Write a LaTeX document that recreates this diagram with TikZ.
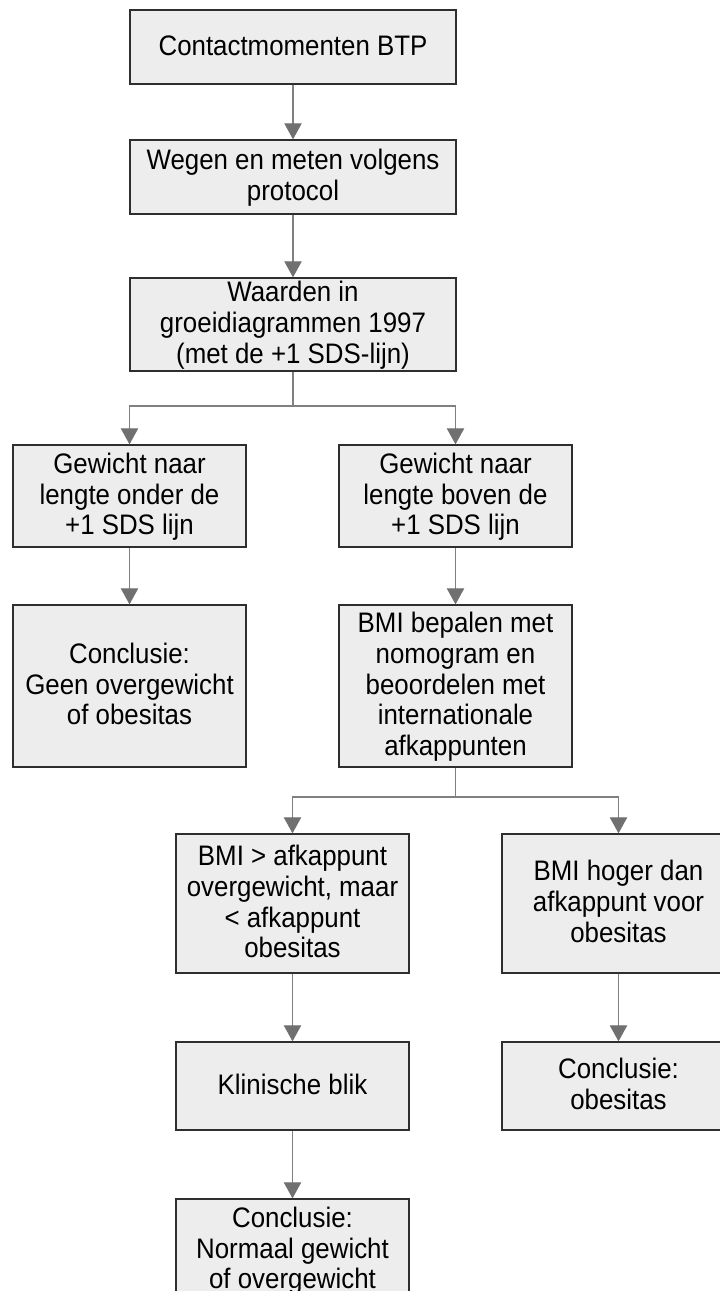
\documentclass[tikz,border=0pt]{standalone}
\usepackage{fontspec}
\usepackage{graphicx}
\setmainfont{Liberation Sans}
\usetikzlibrary{arrows.meta}
\definecolor{boxfill}{HTML}{EDEDED}
\definecolor{boxline}{HTML}{2E2E2E}
\definecolor{conncol}{HTML}{808080}
\definecolor{tipcol}{HTML}{707070}
\newcommand{\boxtext}[1]{\raisebox{-1.5pt}[\height][\depth]{\scalebox{1}[1.09]{\fontsize{19.4}{21.2}\selectfont\begin{tabular}{@{}c@{}}#1\end{tabular}}}}
\tikzset{
  flowbox/.style={draw=boxline, line width=1pt, fill=boxfill, rectangle,
    align=center, inner sep=0pt},
  connline/.style={draw=conncol, line width=0.8pt},
  connarrow/.style={connline, -{Triangle[width=13pt,length=12pt,fill=tipcol,color=tipcol]}}
}
\begin{document}
\begin{tikzpicture}[x=0.75pt,y=-0.75pt]
\useasboundingbox (0,0) rectangle (720,1291);
\clip (0,0) rectangle (720,1291);
\fill[white] (0,0) rectangle (720,1291);
\node[flowbox, minimum width=326*0.75pt, minimum height=74*0.75pt] (b1) at (293,47) {\boxtext{Contactmomenten BTP}};
\node[flowbox, minimum width=326*0.75pt, minimum height=74*0.75pt] (b2) at (293,177) {\boxtext{Wegen en meten volgens\\protocol}};
\node[flowbox, minimum width=326*0.75pt, minimum height=93*0.75pt] (b3) at (293,324.5) {\boxtext{Waarden in\\groeidiagrammen 1997\\(met de +1 SDS-lijn)}};
\node[flowbox, minimum width=233*0.75pt, minimum height=102*0.75pt] (l1) at (129.5,496) {\boxtext{Gewicht naar\\lengte onder de\\+1 SDS lijn}};
\node[flowbox, minimum width=233*0.75pt, minimum height=102*0.75pt] (r1) at (455.5,496) {\boxtext{Gewicht naar\\lengte boven de\\+1 SDS lijn}};
\node[flowbox, minimum width=233*0.75pt, minimum height=162*0.75pt] (l2) at (129.5,686) {\boxtext{Conclusie:\\Geen overgewicht\\of obesitas}};
\node[flowbox, minimum width=233*0.75pt, minimum height=162*0.75pt] (r2) at (455.5,686) {\boxtext{BMI bepalen met\\nomogram en\\beoordelen met\\internationale\\afkappunten}};
\node[flowbox, minimum width=233*0.75pt, minimum height=139*0.75pt] (l3) at (292.5,903.5) {\boxtext{BMI > afkappunt\\overgewicht, maar\\< afkappunt\\obesitas}};
\node[flowbox, minimum width=233*0.75pt, minimum height=139*0.75pt] (r3) at (618.5,903.5) {\boxtext{BMI hoger dan\\afkappunt voor\\obesitas}};
\node[flowbox, minimum width=233*0.75pt, minimum height=88*0.75pt] (l4) at (292.5,1086) {\boxtext{Klinische blik}};
\node[flowbox, minimum width=233*0.75pt, minimum height=88*0.75pt] (r4) at (618.5,1086) {\boxtext{Conclusie:\\obesitas}};
\node[flowbox, minimum width=233*0.75pt, minimum height=102*0.75pt] (l5) at (292.5,1250) {\boxtext{Conclusie:\\Normaal gewicht\\of overgewicht}};
\coordinate (j1) at (293,406);
\coordinate (j2) at (455.5,797);
\draw[connarrow] (b1.south) -- (b2.north);
\draw[connarrow] (b2.south) -- (b3.north);
\draw[connline] (b3.south) -- (j1);
\draw[connarrow] (j1) -| (l1.north);
\draw[connarrow] (j1) -| (r1.north);
\draw[connarrow] (l1.south) -- (l2.north);
\draw[connarrow] (r1.south) -- (r2.north);
\draw[connline] (r2.south) -- (j2);
\draw[connarrow] (j2) -| (l3.north);
\draw[connarrow] (j2) -| (r3.north);
\draw[connarrow] (l3.south) -- (l4.north);
\draw[connarrow] (r3.south) -- (r4.north);
\draw[connarrow] (l4.south) -- (l5.north);
\end{tikzpicture}
\end{document}
